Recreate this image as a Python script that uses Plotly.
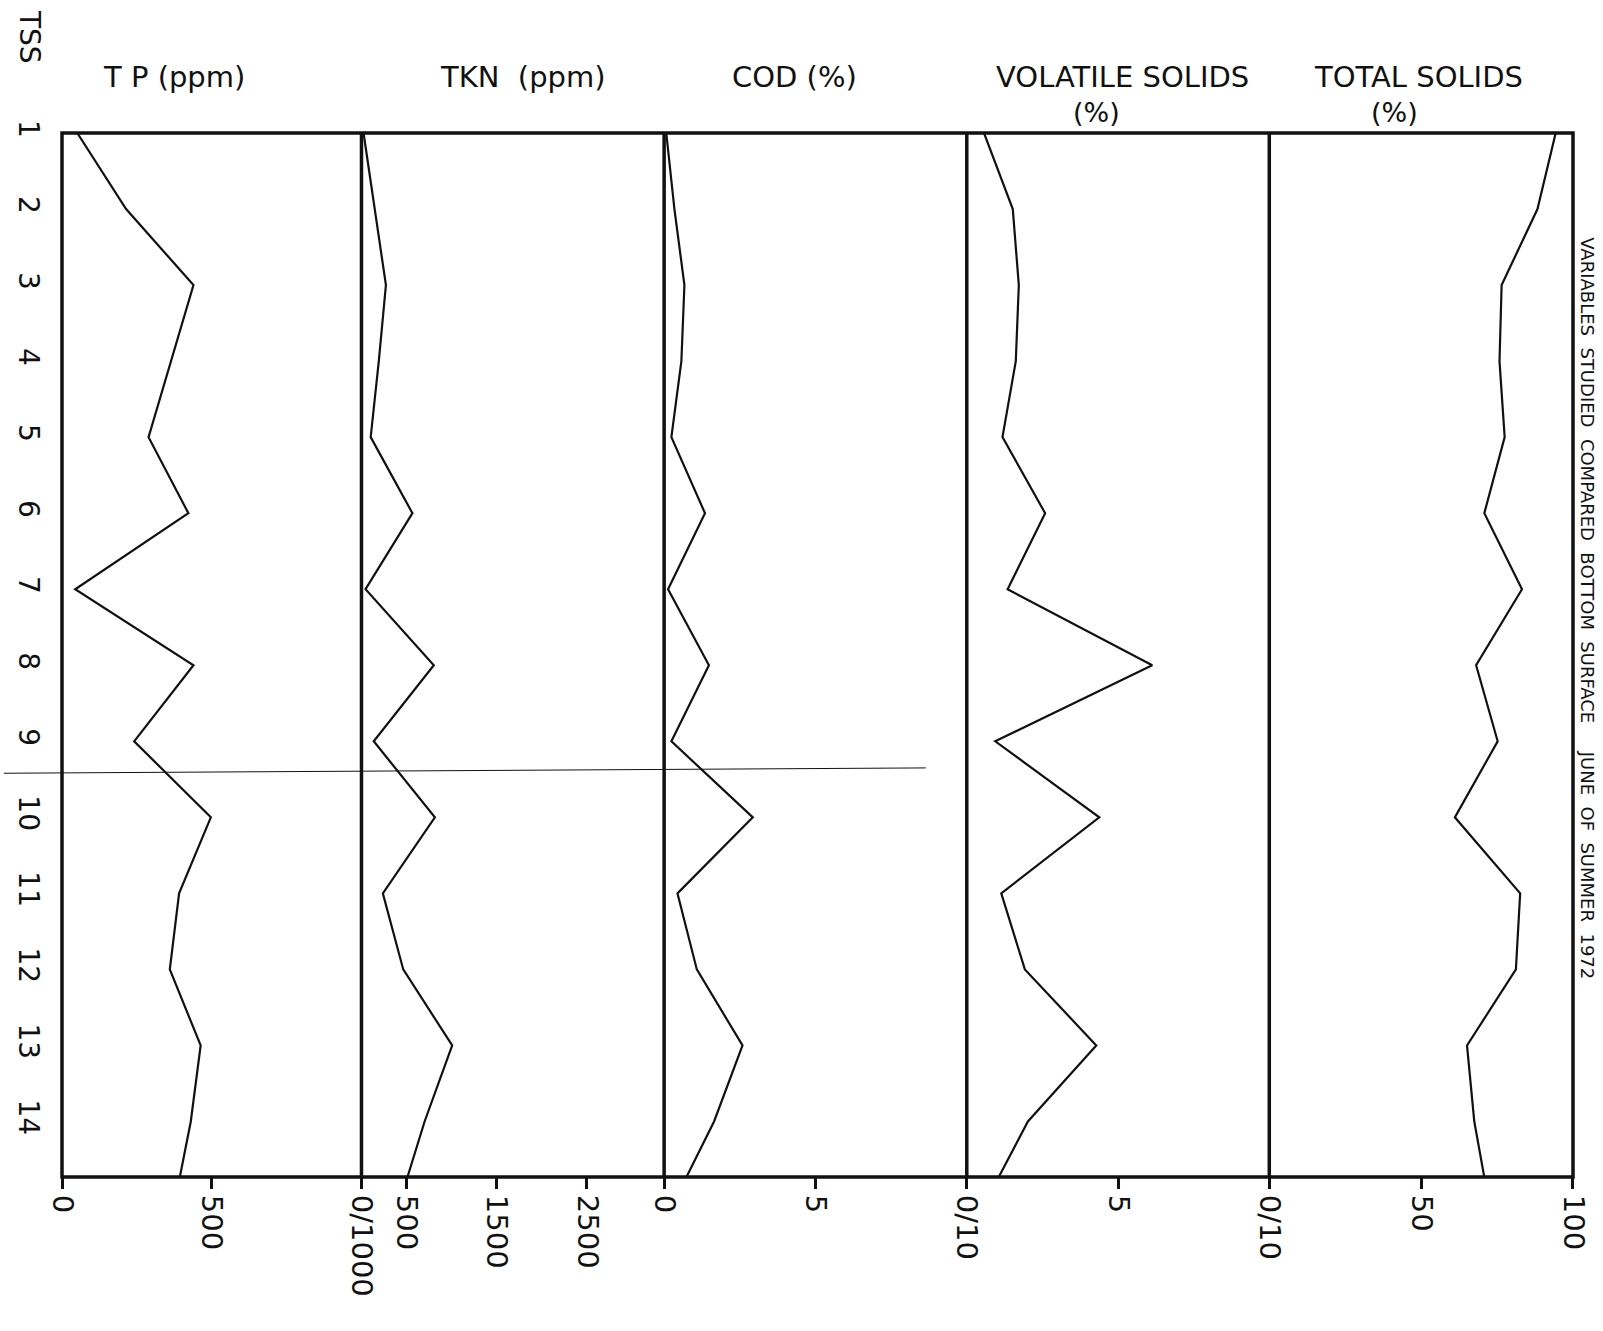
import plotly.graph_objects as go

# ---- data ----
tss_rows = list(range(1, 16))          # 15th row lies just past the bottom edge
tss_ticks = list(range(1, 15))
tss_labels = [str(i) for i in tss_ticks]

tp = [51, 214, 439, 364, 289, 422, 44, 439, 241, 497, 391, 360, 463, 430, 380]
tkn = [23, 147, 271, 192, 102, 565, 45, 802, 136, 814, 237, 463, 1006, 700, 440]
cod = [0.07, 0.34, 0.67, 0.57, 0.24, 1.35, 0.13, 1.48, 0.24, 2.93, 0.44, 1.08, 2.59, 1.65, 0.40]
vol_solids = [0.57, 1.52, 1.72, 1.62, 1.18, 2.59, 1.35, 6.13, 0.94, 4.38, 1.14, 1.92, 4.28, 2.02, 0.70]
tot_solids = [94.3, 88.3, 76.5, 75.8, 77.5, 70.8, 83.2, 68.1, 75.2, 61.1, 82.6, 81.2, 65.1, 67.5, 72.0]

tp_ticks, tp_ticktext = [0, 500, 1000], ["0", "500", "0/1000"]
tkn_ticks, tkn_ticktext = [0, 500, 1500, 2500], ["", "500", "1500", "2500"]
cod_ticks, cod_ticktext = [0, 5, 10], ["0", "5", ""]
vs_ticks, vs_ticktext = [0, 5, 10], ["0/10", "5", "0/10"]
ts_ticks, ts_ticktext = [0, 50, 100], ["", "50", "100"]

titles = ["T P (ppm)", "TKN  (ppm)", "COD (%)", "VOLATILE SOLIDS", "TOTAL SOLIDS"]
series = [tp, tkn, cod, vol_solids, tot_solids]
ranges = [[0, 1000], [0, 3356], [0, 10], [0, 10], [0, 100]]
ticks = [(tp_ticks, tp_ticktext), (tkn_ticks, tkn_ticktext), (cod_ticks, cod_ticktext),
         (vs_ticks, vs_ticktext), (ts_ticks, ts_ticktext)]

# ---- layout constants ----
W, H = 1603, 1331
bounds = [0, 0.1982, 0.3985, 0.5988, 0.7990, 1.0]
FONT = "DejaVu Sans"
ink = "#111111"

fig = go.Figure()
for i, vals in enumerate(series):
    xa = "x" if i == 0 else f"x{i+1}"
    fig.add_trace(go.Scatter(x=vals, y=tss_rows, mode="lines", xaxis=xa, yaxis="y",
                             line=dict(color=ink, width=2.2), showlegend=False,
                             hoverinfo="skip"))

layout = dict(
    width=W, height=H,
    margin=dict(l=58, r=29, t=133, b=154),
    paper_bgcolor="white", plot_bgcolor="white",
    showlegend=False,
    yaxis=dict(range=[14.73, 1], tickvals=tss_ticks, ticktext=tss_labels,
               tickangle=90, showgrid=False, zeroline=False, showline=False,
               ticks="", ticklabelstandoff=14,
               tickfont=dict(family=FONT, size=28, color=ink), anchor="x"),
)
for i in range(5):
    key = "xaxis" if i == 0 else f"xaxis{i+1}"
    tv, tt = ticks[i]
    layout[key] = dict(domain=[bounds[i], bounds[i+1]], range=ranges[i], anchor="y",
                       tickvals=tv, ticktext=tt, tickangle=90, ticks="outside",
                       ticklen=11, tickwidth=2.5, tickcolor=ink,
                       showgrid=False, zeroline=False, showline=False,
                       tickfont=dict(family=FONT, size=29, color=ink))
fig.update_layout(**layout)

# frame and panel dividers
shapes = [dict(type="rect", xref="paper", yref="paper", x0=0, x1=1, y0=0, y1=1,
               line=dict(color=ink, width=3.5))]
for b in bounds[1:-1]:
    shapes.append(dict(type="line", xref="paper", yref="paper", x0=b, x1=b, y0=0, y1=1,
                       line=dict(color=ink, width=3.5)))
# thin stray line across the scan
shapes.append(dict(type="line", xref="paper", yref="y", x0=-0.0385, x1=0.5717,
                   y0=9.42, y1=9.35, line=dict(color=ink, width=1)))
fig.update_layout(shapes=shapes)

# titles
title_x = [0.0743, 0.3054, 0.4847, 0.7019, 0.8975]
ann = []
for t, x in zip(titles, title_x):
    ann.append(dict(text=t, x=x, y=1.0535, xref="paper", yref="paper", showarrow=False,
                    xanchor="center", yanchor="middle",
                    font=dict(family=FONT, size=29, color=ink)))
for x in [0.6844, 0.8816]:
    ann.append(dict(text="(%)", x=x, y=1.0195, xref="paper", yref="paper", showarrow=False,
                    xanchor="center", yanchor="middle",
                    font=dict(family=FONT, size=27, color=ink)))
ann.append(dict(text="TSS", x=-0.0215, y=1.0925, xref="paper", yref="paper", showarrow=False,
                textangle=90, xanchor="center", yanchor="middle",
                font=dict(family=FONT, size=28, color=ink)))
ann.append(dict(text="VARIABLES  STUDIED  COMPARED  BOTTOM  SURFACE     JUNE  OF  SUMMER  1972",
                x=1.0098, y=0.545, xref="paper", yref="paper", showarrow=False,
                textangle=90, xanchor="center", yanchor="middle",
                font=dict(family=FONT, size=18, color=ink)))
fig.update_layout(annotations=ann)

fig.write_html("out.html")
